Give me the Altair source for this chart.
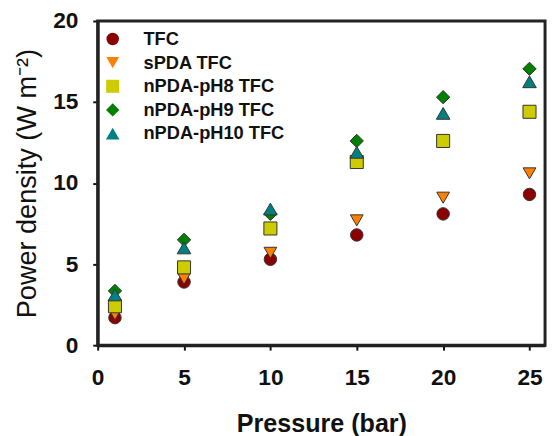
import altair as alt
import pandas as pd

pressure = [1, 5, 10, 15, 20, 25]
series = ["TFC", "sPDA TFC", "nPDA-pH8 TFC", "nPDA-pH9 TFC", "nPDA-pH10 TFC"]
tfc = [1.7, 3.9, 5.3, 6.8, 8.1, 9.3]
spda = [1.9, 4.1, 5.7, 7.7, 9.1, 10.6]
ph8 = [2.4, 4.8, 7.2, 11.3, 12.6, 14.4]
ph9 = [3.35, 6.5, 8.1, 12.6, 15.3, 17.05]
ph10 = [3.1, 6.0, 8.4, 11.9, 14.3, 16.25]
colors = ["#8B0000", "#FF8000", "#CCCC00", "#008000", "#008080"]
shapes = ["circle", "triangle-down", "square", "diamond", "triangle-up"]
sizes = [160, 190, 125, 235, 190]

rows = []
for name, vals in zip(series, [tfc, spda, ph8, ph9, ph10]):
    for p, v in zip(pressure, vals):
        rows.append({"Pressure": p, "Power": v, "Series": name})
df = pd.DataFrame(rows)

font = "Liberation Sans"
W, H = 454, 329
xscale = alt.Scale(domain=[0, 25.9], nice=False)
yscale = alt.Scale(domain=[0, 20], nice=False)

legend = alt.Legend(title=None, orient="none", legendX=6, legendY=9,
                    labelFont=font, labelFontSize=18.5, labelFontWeight="bold",
                    labelColor="#111", labelOffset=22,
                    rowPadding=5, symbolStrokeColor="#333333",
                    symbolStrokeWidth=1, symbolOpacity=1)

points = alt.Chart(df).mark_point(
    filled=True, stroke="#333333", strokeWidth=1, opacity=1
).encode(
    x=alt.X("Pressure:Q", scale=xscale,
            axis=alt.Axis(values=[0, 5, 10, 15, 20, 25], title="Pressure (bar)",
                          labelFlush=False, labelPadding=17, titlePadding=23,
                          titleFontWeight="bold")),
    y=alt.Y("Power:Q", scale=yscale,
            axis=alt.Axis(values=[0, 5, 10, 15, 20], title="Power density (W m⁻²)",
                          labelFlush=False, labelPadding=15, titlePadding=12,
                          titleFontWeight="normal", titleFontSize=27.5)),
    color=alt.Color("Series:N", scale=alt.Scale(domain=series, range=colors), legend=legend),
    shape=alt.Shape("Series:N", scale=alt.Scale(domain=series, range=shapes), legend=legend),
    size=alt.Size("Series:N", scale=alt.Scale(domain=series, range=sizes), legend=legend),
)

frame = alt.Chart(pd.DataFrame({"a": [0]})).mark_rect(
    fill=None, stroke="#222222", strokeWidth=3
).encode(x=alt.value(0), x2=alt.value(W), y=alt.value(0), y2=alt.value(H))

chart = alt.layer(points, frame).properties(
    width=W, height=H,
    autosize=alt.AutoSizeParams(type="none"),
    padding={"left": 91, "top": 10, "right": 3, "bottom": 92},
).configure_view(
    strokeWidth=0
).configure_axis(
    domainColor="#111111", domainWidth=3, tickColor="#111111", tickWidth=2,
    tickSize=5, grid=False, labelFont=font, labelFontSize=23, labelFontWeight="bold",
    labelColor="#111111", titleFont=font, titleFontSize=25.5,
    titleColor="#111111"
)

chart.save("out.html", embed_options={"renderer": "svg", "actions": False})
